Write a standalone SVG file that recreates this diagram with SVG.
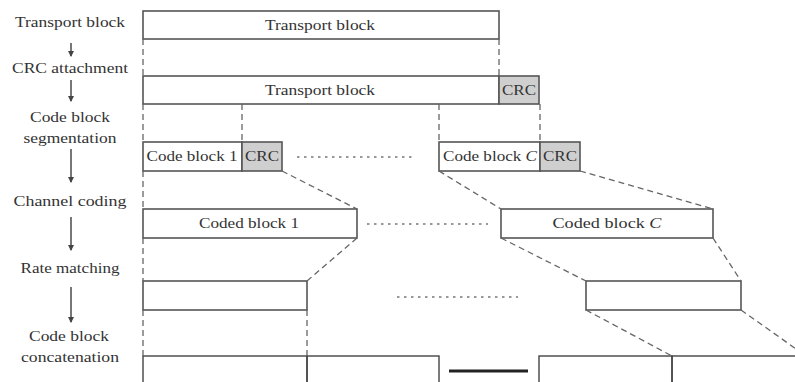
<svg xmlns="http://www.w3.org/2000/svg" width="795" height="382" viewBox="0 0 795 382">
  <defs>
    <style>
      .lbl { font-family: "Liberation Serif", "DejaVu Serif", serif; font-size: 15px; fill: #333; text-anchor: middle; }
      .box { fill: #fff; stroke: #555; stroke-width: 1.6; }
      .crc { fill: #cfcfcf; stroke: #555; stroke-width: 1.6; }
      .dash { fill: none; stroke: #666; stroke-width: 1.3; stroke-dasharray: 6 4; }
      .dot { fill: none; stroke: #777; stroke-width: 1.3; stroke-dasharray: 2.5 4.5; }
      .flow { fill: none; stroke: #555; stroke-width: 1.6; marker-end: url(#head); }
      .edge { fill: none; stroke: #444; stroke-width: 1.4; }
    </style>
    <marker id="head" viewBox="0 0 6 6" refX="5" refY="3" markerWidth="4" markerHeight="4" orient="auto">
      <path d="M0,0 L6,3 L0,6 Z" fill="#444"/>
    </marker>
  </defs>
  <rect width="795" height="382" fill="#fff"/>

  <!-- step labels on the left -->
  <g id="steps">
    <text class="lbl" x="70" y="27" textLength="110" lengthAdjust="spacingAndGlyphs">Transport block</text>
    <text class="lbl" x="70" y="73" textLength="116" lengthAdjust="spacingAndGlyphs">CRC attachment</text>
    <text class="lbl" x="70" y="122" textLength="80" lengthAdjust="spacingAndGlyphs">Code block</text>
    <text class="lbl" x="70" y="143" textLength="93" lengthAdjust="spacingAndGlyphs">segmentation</text>
    <text class="lbl" x="70" y="206" textLength="113" lengthAdjust="spacingAndGlyphs">Channel coding</text>
    <text class="lbl" x="70" y="273" textLength="99" lengthAdjust="spacingAndGlyphs">Rate matching</text>
    <text class="lbl" x="69" y="341" textLength="80" lengthAdjust="spacingAndGlyphs">Code block</text>
    <text class="lbl" x="70" y="362" textLength="98" lengthAdjust="spacingAndGlyphs">concatenation</text>
  </g>

  <!-- transport block -->
  <g id="tb">
    <rect class="box" x="143" y="11" width="356" height="28"/>
    <text class="lbl" x="320" y="30" textLength="110" lengthAdjust="spacingAndGlyphs">Transport block</text>
  </g>

  <!-- transport block with CRC -->
  <g id="tb-crc">
    <rect class="box" x="143" y="76" width="356" height="28"/>
    <text class="lbl" x="320" y="95" textLength="110" lengthAdjust="spacingAndGlyphs">Transport block</text>
    <rect class="crc" x="499" y="76" width="40" height="28"/>
    <text class="lbl" x="519" y="95" textLength="34" lengthAdjust="spacingAndGlyphs">CRC</text>
  </g>

  <!-- segmented code blocks -->
  <g id="cb1">
    <rect class="box" x="143" y="142" width="99" height="29"/>
    <text class="lbl" x="192" y="161" textLength="91" lengthAdjust="spacingAndGlyphs">Code block 1</text>
    <rect class="crc" x="242" y="142" width="40" height="29"/>
    <text class="lbl" x="262" y="161" textLength="34" lengthAdjust="spacingAndGlyphs">CRC</text>
  </g>
  <g id="cbC">
    <rect class="box" x="439" y="142" width="101" height="29"/>
    <text class="lbl" x="490" y="161" textLength="94" lengthAdjust="spacingAndGlyphs">Code block <tspan font-style="italic">C</tspan></text>
    <rect class="crc" x="540" y="142" width="40" height="29"/>
    <text class="lbl" x="560" y="161" textLength="34" lengthAdjust="spacingAndGlyphs">CRC</text>
  </g>

  <!-- coded blocks -->
  <g id="coded1">
    <rect class="box" x="143" y="209" width="214" height="29"/>
    <text class="lbl" x="249" y="228" textLength="100" lengthAdjust="spacingAndGlyphs">Coded block 1</text>
  </g>
  <g id="codedC">
    <rect class="box" x="501" y="209" width="212" height="29"/>
    <text class="lbl" x="607" y="228" textLength="109" lengthAdjust="spacingAndGlyphs">Coded block <tspan font-style="italic">C</tspan></text>
  </g>

  <!-- rate-matched blocks -->
  <g id="rm1">
    <rect class="box" x="143" y="281" width="164" height="29"/>
  </g>
  <g id="rmC">
    <rect class="box" x="586" y="281" width="155" height="29"/>
  </g>

  <!-- concatenated output -->
  <g id="concat">
    <rect class="edge" x="143" y="356" width="164" height="40"/>
    <rect class="edge" x="307" y="356" width="132" height="40"/>
    <line x1="449" y1="371" x2="528" y2="371" stroke="#222" stroke-width="3"/>
    <rect class="edge" x="539" y="356" width="133" height="40"/>
    <rect class="edge" x="672" y="356" width="140" height="40"/>
  </g>

  <!-- connectors -->
  <g id="connectors">
    <!-- step arrows -->
    <line class="flow" x1="71" y1="43" x2="71" y2="56"/>
    <line class="flow" x1="71" y1="80" x2="71" y2="101"/>
    <line class="flow" x1="71" y1="149" x2="71" y2="182"/>
    <line class="flow" x1="71" y1="217" x2="71" y2="250"/>
    <line class="flow" x1="71" y1="287" x2="71" y2="322"/>

    <!-- left edge guides -->
    <path class="dash" d="M143,39 V76 M143,104 V142 M143,171 V209 M143,238 V281 M143,310 V356"/>
    <!-- block boundary guides -->
    <path class="dash" d="M499,39 V76"/>
    <path class="dash" d="M242,104 V142 M439,104 V142 M540,104 V142"/>
    <path class="dash" d="M282,171 L357,209 M439,171 L501,209 M580,171 L713,209"/>
    <path class="dash" d="M357,238 L307,281 M501,238 L586,281 M713,238 L741,281"/>
    <path class="dash" d="M307,310 V356 M586,310 L672,356 M741,310 L806,356"/>

    <!-- elided blocks -->
    <line class="dot" x1="297" y1="157" x2="416" y2="157"/>
    <line class="dot" x1="367" y1="224" x2="488" y2="224"/>
    <line class="dot" x1="397" y1="297" x2="518" y2="297"/>
  </g>
</svg>
